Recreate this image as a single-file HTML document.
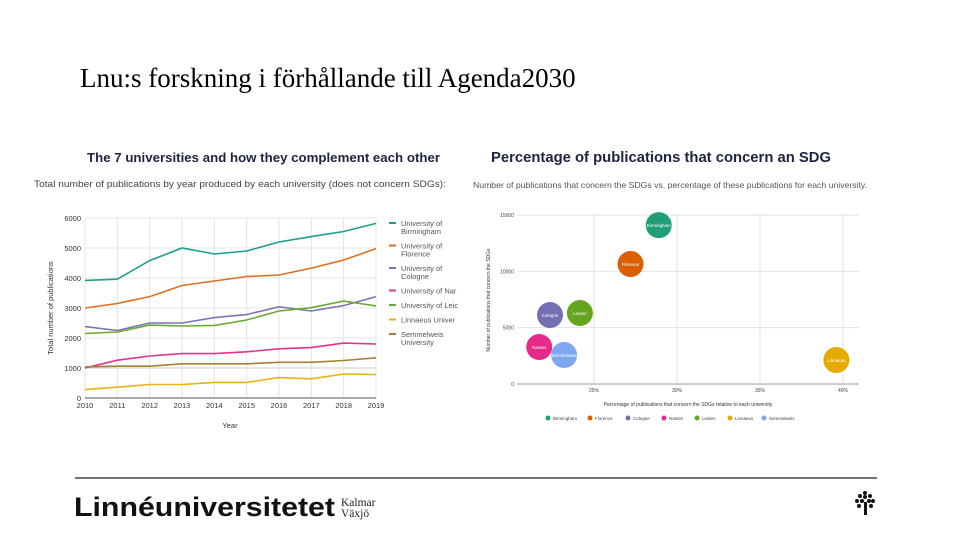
<!DOCTYPE html>
<html><head><meta charset="utf-8">
<style>
body{margin:0;width:960px;height:540px;background:#fff;overflow:hidden;position:relative;font-family:"Liberation Sans",sans-serif}
#title{position:absolute;left:80px;top:62px;font-family:"Liberation Serif",serif;font-size:27px;color:#000;white-space:nowrap;line-height:32px}
svg{position:absolute;left:0;top:0}
</style></head><body>
<div id="title">Lnu:s forskning i förhållande till Agenda2030</div>
<svg id="s" width="960" height="540">
<g>
<text x="87" y="162" font-size="13" font-weight="bold" fill="#1f2340" textLength="353" lengthAdjust="spacingAndGlyphs">The 7 universities and how they complement each other</text>
<text x="34" y="187" font-size="9.5" fill="#444" textLength="412" lengthAdjust="spacingAndGlyphs">Total number of publications by year produced by each university (does not concern SDGs):</text>
</g>
<g>
<text x="491" y="162" font-size="14.5" font-weight="bold" fill="#1f2340" textLength="340" lengthAdjust="spacingAndGlyphs">Percentage of publications that concern an SDG</text>
<text x="473" y="188" font-size="8.5" fill="#555" textLength="394" lengthAdjust="spacingAndGlyphs">Number of publications that concern the SDGs vs. percentage of these publications for each university.</text>
</g>
<g id="line"></g>
<g id="bub"></g>
<line x1="75" y1="478" x2="877" y2="478" stroke="#222" stroke-width="1.2"/>
<g>
<text x="74" y="516" font-size="27" font-weight="bold" fill="#111" textLength="261" lengthAdjust="spacingAndGlyphs">Linnéuniversitetet</text>
<text x="341" y="506" font-family="Liberation Serif,serif" font-size="11.5" fill="#222">Kalmar</text>
<text x="341" y="517" font-family="Liberation Serif,serif" font-size="11.5" fill="#222">Växjö</text>
</g>
<g fill="#111">
<rect x="864" y="502" width="3" height="13"/>
<circle cx="865" cy="493" r="2"/><circle cx="860" cy="496" r="2"/><circle cx="870" cy="496" r="2"/>
<circle cx="857" cy="501" r="2"/><circle cx="873" cy="501" r="2"/><circle cx="862" cy="501" r="2"/><circle cx="869" cy="501" r="2"/>
<circle cx="859" cy="506" r="2"/><circle cx="871" cy="506" r="2"/><circle cx="865" cy="497" r="2"/>
</g>
</svg>
<script>
const years=[2010,2011,2012,2013,2014,2015,2016,2017,2018,2019];
const yTicks=[0,1000,2000,3000,4000,5000,6000];
const names=["University of Birmingham","University of Florence","University of Cologne","University of Nantes","University of Leiden","Linnaeus University","Semmelweis University"];
const legendLines=[["University of","Birmingham"],["University of","Florence"],["University of","Cologne"],["University of Nar"],["University of Leic"],["Linnaeus Univer"],["Semmelweis","University"]];
const colors=["#1f9e89","#e0701f","#7e74b4","#e0338a","#6aab2e","#e6b318","#a48233"];
const birmingham=[3920,3960,4580,5000,4800,4900,5200,5380,5550,5820];
const florence=[3000,3150,3380,3750,3900,4050,4100,4330,4600,4980];
const cologne=[2380,2250,2500,2500,2680,2780,3040,2900,3080,3380];
const nantes=[1000,1260,1400,1480,1480,1540,1640,1680,1830,1800];
const leiden=[2150,2200,2430,2400,2420,2600,2900,3010,3230,3070];
const linnaeus=[280,360,450,450,520,520,680,640,800,780];
const semmelweis=[1040,1060,1060,1140,1140,1140,1190,1190,1250,1340];
const series=[birmingham,florence,cologne,nantes,leiden,linnaeus,semmelweis];

const bubbleNames=["Birmingham","Florence","Cologne","Nantes","Leiden","Linnaeus","Semmelweis"];
const bubblePct=[28.9,27.2,22.35,21.7,24.15,39.6,23.2];
const bubbleCount=[14100,10650,6120,3280,6300,2130,2570];
const bxTicks=[25,30,35,40];
const byTicks=[0,5000,10000,15000];

const NS="http://www.w3.org/2000/svg";
function mk(p,t,a,txt){const e=document.createElementNS(NS,t);for(const k in a)e.setAttribute(k,a[k]);if(txt!==undefined)e.textContent=txt;p.appendChild(e);return e;}

const L=document.getElementById('line');
const lx=y=>85+(y-2010)*(376-85)/9;
const ly=v=>398-v*180/6000;
yTicks.forEach(t=>{
  const g=mk(L,'line',{x1:85,x2:376,y1:ly(t),y2:ly(t),stroke:t===1000?'#ccc':'#e4e4e4','stroke-width':1});
  
  
  const tx=mk(L,'text',{x:81,y:ly(t)+3,'font-size':7.5,'text-anchor':'end',fill:'#333'},t);
  
  
});
years.forEach(y=>{
  const g=mk(L,'line',{x1:lx(y),x2:lx(y),y1:218,y2:398,stroke:'#e4e4e4','stroke-width':1});
  
  
  const tx=mk(L,'text',{x:lx(y),y:408,'font-size':7.5,'text-anchor':'middle',fill:'#333'},y);
  
  
});
const ax=mk(L,'line',{x1:85,x2:376,y1:398,y2:398,stroke:'#555','stroke-width':1});


const xt=mk(L,'text',{x:230,y:428,'font-size':7.5,'text-anchor':'middle',fill:'#333'},'Year');


const yt=mk(L,'text',{x:53,y:308,'font-size':7.5,'text-anchor':'middle',fill:'#333',transform:'rotate(-90 53 308)'},'Total number of publications');


series.forEach((s,i)=>{
  const p=mk(L,'polyline',{points:s.map((v,j)=>lx(years[j])+','+ly(v)).join(' '),fill:'none',stroke:colors[i],'stroke-width':1.6});
  
  
  const yy=223+i*(i<3?22.5:0)+(i>=3?67.5+(i-3)*14.5:0);
  const ll=mk(L,'line',{x1:389,x2:396,y1:yy,y2:yy,stroke:colors[i],'stroke-width':2});
  
  
  legendLines[i].forEach((t,k)=>{
    const tx=mk(L,'text',{x:401,y:yy+3+k*8,'font-size':7.5,fill:'#555'},t);
    
    
  });
});

const B=document.getElementById('bub');
const bx=p=>594+(p-25)*83/5;
const by=v=>384-v*169/15000;
byTicks.forEach(t=>{
  const g=mk(B,'line',{x1:517,x2:859,y1:by(t),y2:by(t),stroke:t===0?'#999':'#e2e2e2','stroke-width':1});
  
  
  const tx=mk(B,'text',{x:514,y:by(t)+2,'font-size':5,'text-anchor':'end',fill:'#444'},t);
  
  
});
bxTicks.forEach(t=>{
  const g=mk(B,'line',{x1:bx(t),x2:bx(t),y1:215,y2:384,stroke:'#e2e2e2','stroke-width':1});
  
  
  const tx=mk(B,'text',{x:bx(t),y:392,'font-size':5,'text-anchor':'middle',fill:'#444'},t+'%');
  
  
});
const bxt=mk(B,'text',{x:688,y:406,'font-size':5,'text-anchor':'middle',fill:'#333'},'Percentage of publications that concern the SDGs relative to each university');


const byt=mk(B,'text',{x:490,y:300,'font-size':5,'text-anchor':'middle',fill:'#333',transform:'rotate(-90 490 300)'},'Number of publications that concern the SDGs');


const bcols=["#1f9e78","#d95f02","#7570b3","#e7298a","#66a61e","#e6ab02","#7fa7f0"];
bubbleNames.forEach((n,i)=>{
  const c=mk(B,'circle',{cx:bx(bubblePct[i]),cy:by(bubbleCount[i]),r:13,fill:bcols[i]});
  
  
  const tx=mk(B,'text',{x:bx(bubblePct[i]),y:by(bubbleCount[i])+2,'font-size':4.5,'text-anchor':'middle',fill:'#fff'},n);
  
  
  const lxp=[548,590,628,664,697,730,764][i];
  const d=mk(B,'circle',{cx:lxp,cy:418,r:2.5,fill:bcols[i]});
  
  
  const lt=mk(B,'text',{x:lxp+5,y:420,'font-size':4.5,fill:'#444'},n);
  
  
});
</script>
</body></html>
